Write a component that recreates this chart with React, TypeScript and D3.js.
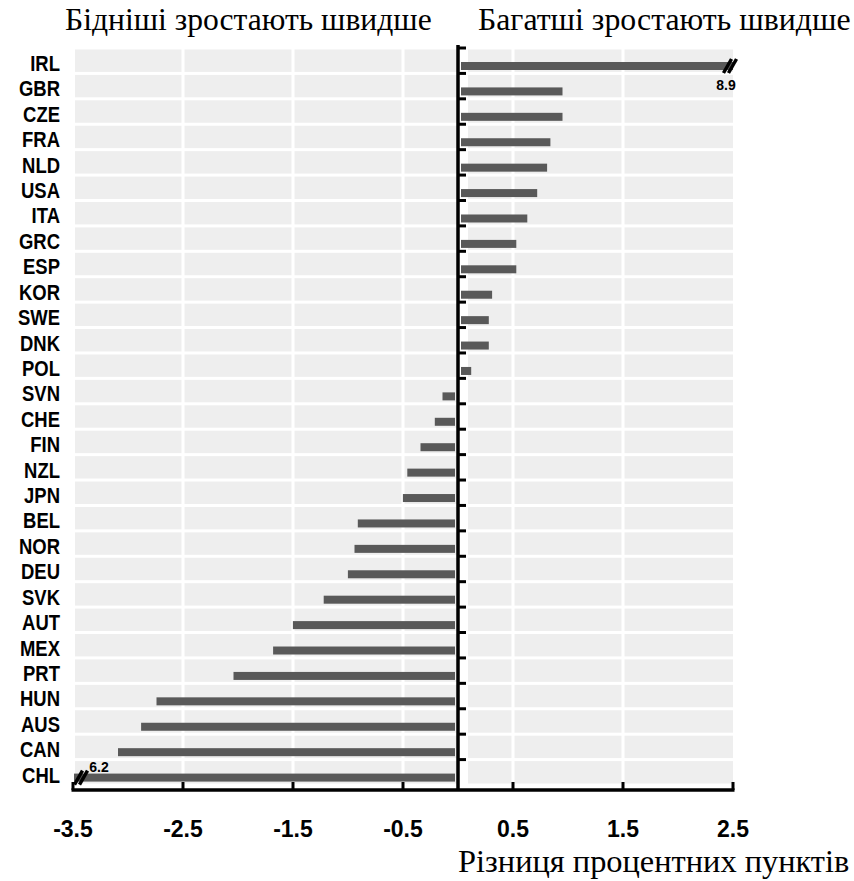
import * as d3 from "d3";
import { useEffect } from "react";
import * as React from "react";

// countries, top to bottom
const countries = [
  "IRL", "GBR", "CZE", "FRA", "NLD", "USA", "ITA", "GRC", "ESP", "KOR",
  "SWE", "DNK", "POL", "SVN", "CHE", "FIN", "NZL", "JPN", "BEL", "NOR",
  "DEU", "SVK", "AUT", "MEX", "PRT", "HUN", "AUS", "CAN", "CHL",
];

// difference in percentage points
const values = [
  8.9, 0.95, 0.95, 0.84, 0.81, 0.72, 0.63, 0.53, 0.53, 0.31,
  0.28, 0.28, 0.12, -0.15, -0.22, -0.35, -0.47, -0.51, -0.92, -0.95,
  -1.01, -1.23, -1.51, -1.69, -2.05, -2.75, -2.89, -3.1, -6.2,
];

// values that run off the axis get a break mark and a label
const breakLabels = ["8.9", "6.2"];

const tickValues = [-3.5, -2.5, -1.5, -0.5, 0.5, 1.5, 2.5];
const titleLeft = "Бідніші зростають швидше";
const titleRight = "Багатші зростають швидше";
const axisTitle = "Різниця процентних пунктів";

const App: React.FC = () => {
  useEffect(() => {
    const width = 854;
    const height = 881;

    const svg = d3
      .select("#chart")
      .append("svg")
      .attr("width", width)
      .attr("height", height)
      .style("position", "absolute")
      .style("left", "0px")
      .style("top", "0px")
      .style("background", "#fff");

    const x = d3.scaleLinear().domain([-3.5, 2.5]).range([73, 733]);
    const y = d3.scaleBand().domain(countries).range([48, 785]).padding(0);
    const bw = y.bandwidth();
    const x0 = x(0);

    // grey row bands
    svg
      .append("g")
      .selectAll("rect")
      .data(countries)
      .enter()
      .append("rect")
      .attr("x", x(-3.5) + 2)
      .attr("y", (d) => (y(d) as number) + 1.5)
      .attr("width", x(2.5) - x(-3.5) - 2)
      .attr("height", bw - 3)
      .attr("fill", "#eeeeee");

    // white vertical gridlines cutting the bands
    svg
      .append("g")
      .selectAll("rect")
      .data(tickValues.slice(1, -1))
      .enter()
      .append("rect")
      .attr("x", (d) => x(d) - 1.5)
      .attr("y", 46)
      .attr("width", 3)
      .attr("height", 742)
      .attr("fill", "#fff");

    svg
      .append("rect")
      .attr("x", x0)
      .attr("y", 46)
      .attr("width", 10)
      .attr("height", 742)
      .attr("fill", "#fff");

    // bars
    svg
      .append("g")
      .selectAll("rect")
      .data(values)
      .enter()
      .append("rect")
      .attr("x", (v) => (v >= 0 ? x0 + 3 : x(Math.max(v, -3.5)) + 1))
      .attr("y", (_, i) => (y(countries[i]) as number) + 14)
      .attr("width", (v) =>
        v >= 0 ? x(Math.min(v, 2.5)) - x0 - 3 : x0 - 3 - x(Math.max(v, -3.5)) - 1
      )
      .attr("height", 8)
      .attr("fill", "#595959");

    // break marks on the clipped bars
    const clipped = values
      .map((v, i) => ({ v, i }))
      .filter((d) => d.v > 2.5 || d.v < -3.5);

    clipped.forEach((d, k) => {
      const bx = d.v > 0 ? x(2.5) - 3 : x(-3.5) + 8;
      const by = (y(countries[d.i]) as number) + 18;
      const g = svg.append("g").attr("transform", `translate(${bx},${by})`);
      [-2.5, 2.5].forEach((off) => {
        g.append("line")
          .attr("x1", off - 4)
          .attr("y1", 7)
          .attr("x2", off + 4)
          .attr("y2", -7)
          .attr("stroke", "#000")
          .attr("stroke-width", 3.5);
      });
      g.append("text")
        .attr("x", d.v > 0 ? -4 : 18)
        .attr("y", d.v > 0 ? 24 : -6)
        .attr("text-anchor", "middle")
        .attr("font-family", "Liberation Sans, Arial, sans-serif")
        .attr("font-weight", "bold")
        .attr("font-size", 14)
        .attr("fill", "#000")
        .text(breakLabels[k]);
    });

    // y axis line with ticks at band edges
    svg
      .append("line")
      .attr("x1", x0)
      .attr("x2", x0)
      .attr("y1", 45)
      .attr("y2", 791)
      .attr("stroke", "#000")
      .attr("stroke-width", 3.5);

    const edges = countries.map((c) => y(c) as number);
    svg
      .append("g")
      .selectAll("line")
      .data(edges)
      .enter()
      .append("line")
      .attr("x1", x0)
      .attr("x2", x0 + 8)
      .attr("y1", (d) => d)
      .attr("y2", (d) => d)
      .attr("stroke", "#000")
      .attr("stroke-width", 3);

    // x axis
    const axisY = 790;
    svg
      .append("line")
      .attr("x1", x(-3.5) - 1.5)
      .attr("x2", x(2.5) + 1.5)
      .attr("y1", axisY)
      .attr("y2", axisY)
      .attr("stroke", "#000")
      .attr("stroke-width", 3.5);

    svg
      .append("g")
      .selectAll("line")
      .data(tickValues)
      .enter()
      .append("line")
      .attr("x1", (d) => x(d))
      .attr("x2", (d) => x(d))
      .attr("y1", axisY)
      .attr("y2", axisY - 8)
      .attr("stroke", "#000")
      .attr("stroke-width", 3);

    svg
      .append("g")
      .selectAll("text")
      .data(tickValues)
      .enter()
      .append("text")
      .attr("x", (d) => x(d))
      .attr("y", 837)
      .attr("text-anchor", "middle")
      .attr("font-family", "Liberation Sans, Arial, sans-serif")
      .attr("font-weight", "bold")
      .attr("font-size", 23)
      .attr("fill", "#000")
      .text((d) => d.toFixed(1));

    // country labels, narrow bold
    const sx = 0.84;
    svg
      .append("g")
      .attr("transform", `scale(${sx},1)`)
      .selectAll("text")
      .data(countries)
      .enter()
      .append("text")
      .attr("x", 60 / sx)
      .attr("y", (d) => (y(d) as number) + 23)
      .attr("text-anchor", "end")
      .attr("font-family", "Liberation Sans, Arial, sans-serif")
      .attr("font-weight", "bold")
      .attr("font-size", 22)
      .attr("fill", "#000")
      .text((d) => d);

    // titles
    const serif = "Liberation Serif, Times New Roman, serif";
    svg
      .append("text")
      .attr("x", 65)
      .attr("y", 30)
      .attr("font-family", serif)
      .attr("font-size", 31.6)
      .text(titleLeft);
    svg
      .append("text")
      .attr("x", 478)
      .attr("y", 30)
      .attr("font-family", serif)
      .attr("font-size", 31.8)
      .text(titleRight);
    svg
      .append("text")
      .attr("x", 458)
      .attr("y", 872)
      .attr("font-family", serif)
      .attr("font-size", 32.4)
      .text(axisTitle);

    return () => {
      d3.select("#chart").select("svg").remove();
    };
  });

  return <div id="chart"></div>;
};

export default App;
